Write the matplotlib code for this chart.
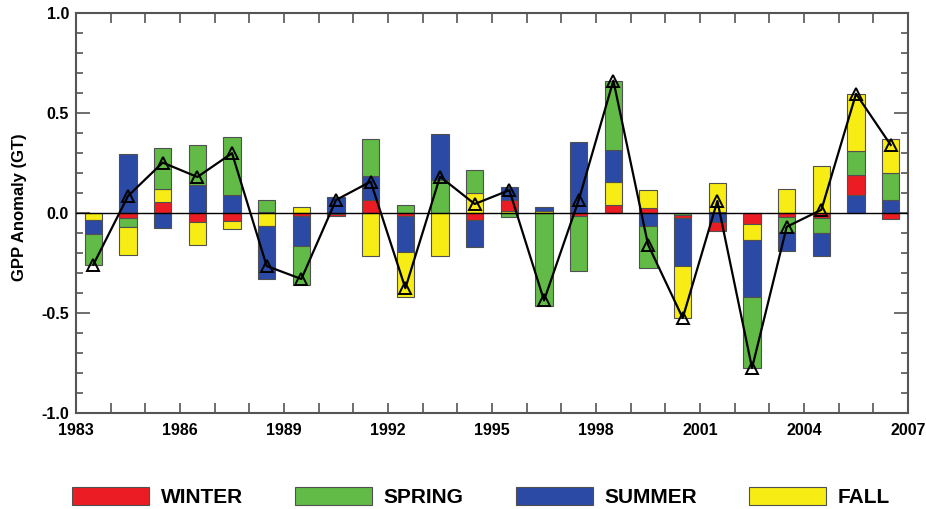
import numpy as np
import matplotlib
matplotlib.use("Agg")
import matplotlib.pyplot as plt
from matplotlib.patches import Patch
from matplotlib.ticker import MultipleLocator

# seasonal GPP anomalies (GT)
years = list(range(1983, 2007))
winter = [0.0, -0.025, 0.057, -0.047, -0.038, 0.005, -0.013, -0.012, 0.065, -0.013,
          0.0, -0.035, 0.053, 0.0, -0.017, 0.042, 0.027, -0.018, -0.045, -0.055,
          -0.022, -0.025, 0.100, -0.030]
spring = [-0.153, -0.045, 0.205, 0.200, 0.287, 0.060, -0.195, 0.0, 0.183, 0.042,
          0.165, 0.115, -0.018, -0.465, -0.272, 0.345, -0.212, -0.008, 0.005, -0.357,
          -0.072, -0.077, 0.117, 0.133]
summer = [-0.070, 0.295, -0.073, 0.140, 0.092, -0.265, -0.150, 0.080, 0.122, -0.180,
          0.230, -0.135, 0.067, 0.020, 0.353, 0.163, -0.063, -0.237, -0.043, -0.285,
          -0.095, -0.115, 0.092, 0.067]
fall = [-0.035, -0.140, 0.063, -0.113, -0.042, -0.065, 0.028, -0.003, -0.213, -0.225,
        -0.213, 0.100, 0.012, 0.008, 0.0, 0.112, 0.090, -0.262, 0.143, -0.078,
        0.120, 0.233, 0.287, 0.170]

season_names = ['WINTER', 'SPRING', 'SUMMER', 'FALL']
colors = ['#ec1c24', '#62bb46', '#2a4aa6', '#f7ec13']
edge = '#505050'

plt.rcParams['font.family'] = ['Liberation Sans', 'DejaVu Sans']
plt.rcParams['font.weight'] = 'bold'

fig = plt.figure(figsize=(9.26, 5.09), dpi=100)
ax = fig.add_axes([0.0821, 0.1886, 0.8985, 0.7859])

seasons = [winter, spring, summer, fall]
x = np.array(years) + 0.5
total = np.sum(np.array(seasons), axis=0)

# stack smallest anomalies closest to zero, positives up and negatives down
for i in range(len(years)):
    vals = [(s[i], c) for s, c in zip(seasons, colors)]
    pos = sorted([v for v in vals if v[0] > 0], key=lambda v: v[0])
    neg = sorted([v for v in vals if v[0] < 0], key=lambda v: -v[0])
    for group in (pos, neg):
        base = 0.0
        for v, c in group:
            ax.bar(x[i], v, width=0.5, bottom=base, color=c, edgecolor=edge,
                   linewidth=0.8, zorder=2)
            base += v

ax.axhline(0, color='black', lw=1.0, zorder=3)
ax.plot(x, total, color='black', lw=1.6, marker='^', ms=8, mfc='none',
        mec='black', mew=1.4, zorder=4)

ax.set_xlim(1983, 2007)
ax.set_ylim(-1.0, 1.0)
ax.xaxis.set_major_locator(MultipleLocator(3))
ax.xaxis.set_minor_locator(MultipleLocator(1))
ax.yaxis.set_major_locator(MultipleLocator(0.5))
ax.yaxis.set_minor_locator(MultipleLocator(0.1))
ax.yaxis.set_major_formatter(lambda v, p: '%.1f' % v)

ax.tick_params(axis='both', which='both', direction='in', top=True, right=True,
               color='#555555', width=1.2)
ax.tick_params(axis='x', which='both', length=7, labelsize=11.5, pad=7)
ax.tick_params(axis='y', which='major', length=10, labelsize=11.5, pad=5)
ax.tick_params(axis='y', which='minor', length=5)
for sp in ax.spines.values():
    sp.set_color('#555555')
    sp.set_linewidth(1.5)

ax.set_ylabel('GPP Anomaly (GT)', fontsize=12, fontweight='bold')
ax.yaxis.set_label_coords(-0.059, 0.514)

handles = [Patch(facecolor=c, edgecolor=edge, linewidth=0.8) for c in colors]
fig.legend(handles, season_names, loc='center', bbox_to_anchor=(481 / 926, 12 / 509),
           ncol=4, frameon=False, fontsize=15, handlelength=3.7, handleheight=0.95,
           handletextpad=0.55, columnspacing=2.5, borderpad=0, borderaxespad=0)

fig.savefig('out.png', dpi=100)
